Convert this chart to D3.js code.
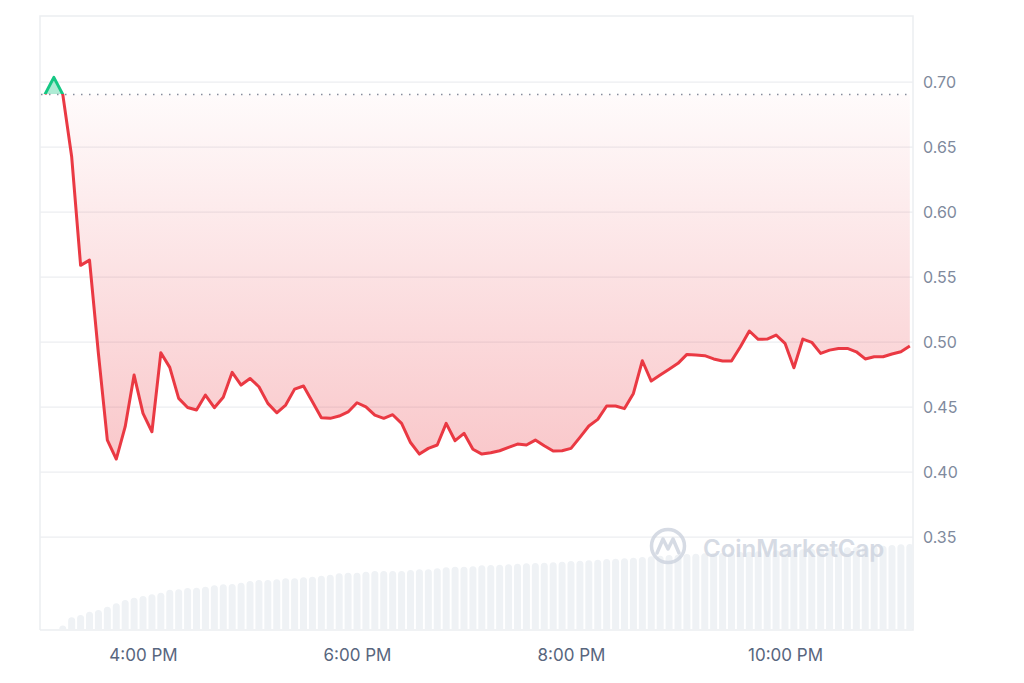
<!DOCTYPE html>
<html><head><meta charset="utf-8">
<script src="https://cdn.jsdelivr.net/npm/d3@7"></script>
<style>
html,body{margin:0;padding:0;background:#fff;}
svg{display:block;font-family:Inter, "Noto Sans", sans-serif;}
</style></head>
<body><svg id="c" width="1024" height="683"></svg>
<script>
const times = ["15:05","15:10","15:15","15:20","15:25","15:30","15:35","15:40","15:45","15:50","15:55",
"16:00","16:05","16:10","16:15","16:20","16:25","16:30","16:35","16:40","16:45","16:50","16:55",
"17:00","17:05","17:10","17:15","17:20","17:25","17:30","17:35","17:40","17:45","17:50","17:55",
"18:00","18:05","18:10","18:15","18:20","18:25","18:30","18:35","18:40","18:45","18:50","18:55",
"19:00","19:05","19:10","19:15","19:20","19:25","19:30","19:35","19:40","19:45","19:50","19:55",
"20:00","20:05","20:10","20:15","20:20","20:25","20:30","20:35","20:40","20:45","20:50","20:55",
"21:00","21:05","21:10","21:15","21:20","21:25","21:30","21:35","21:40","21:45","21:50","21:55",
"22:00","22:05","22:10","22:15","22:20","22:25","22:30","22:35","22:40","22:45","22:50","22:55",
"23:00","23:05","23:10"];
const prices = [0.6905,0.7036,0.6905,0.6425,0.559,0.563,0.491,0.4246,0.410,0.4349,0.4746,
0.4451,0.431,0.4918,0.4805,0.4567,0.4497,0.4477,0.4592,0.4495,0.4575,0.4767,0.4669,
0.472,0.4656,0.4528,0.4456,0.4515,0.4638,0.4662,0.4541,0.4418,0.4413,0.4431,0.4462,
0.4533,0.4502,0.4438,0.4413,0.4441,0.4375,0.4227,0.4138,0.4182,0.4208,0.4374,0.4241,
0.4298,0.4175,0.4138,0.4148,0.4164,0.419,0.4215,0.4208,0.4246,0.4202,0.4162,0.4164,
0.4182,0.4267,0.4354,0.4405,0.4508,0.4508,0.4488,0.4605,0.4856,0.47,0.4746,0.479,
0.4836,0.4905,0.49,0.4895,0.487,0.4854,0.4854,0.4964,0.5085,0.5021,0.5023,0.5054,
0.499,0.4802,0.5023,0.4998,0.4913,0.4938,0.4951,0.4951,0.4925,0.487,0.4887,0.4887,
0.4908,0.4925,0.4969];
const volumes = [0,0,2.3,11.7,14,17.3,19,22.3,25.7,29,31.3,
33,34.7,36.3,39.3,39.7,41,41.3,42.3,43.7,44.7,45,46.3,
48,49,49,49.7,50.7,50.7,51.7,52.3,53.3,54.3,55.7,56.3,
56.3,57.3,58,58,58,58,59,59.7,59.7,60.7,61.7,62.3,
62.3,62.7,63.7,64,64.3,64.7,65.3,65.7,66,66.3,66.7,67.3,
68,68.3,68.7,69.3,70,70.3,70.7,71.3,72,72.7,73.3,74,
74.3,75,75.3,75.7,76,76.3,76.7,77,77.3,77.7,78,78.7,
79,79.3,79.7,80,80.7,81,81.3,81.7,82,82.3,82.7,83.3,
84,84.7,85];
const openPrice = 0.6905;
const yTicks = [0.35,0.40,0.45,0.50,0.55,0.60,0.65,0.70];
const xTickTimes = ["16:00","18:00","20:00","22:00"];

const parse = s => { const [h,m] = s.split(":").map(Number); return new Date(2024,0,1,h,m); };
const data = times.map((t,i)=>({t:parse(t), p:prices[i], v:volumes[i]}));

const L=40, R=913, T=16, B=630;
const svg = d3.select("#c");
const x = d3.scaleTime().domain([new Date(2024,0,1,15,2,14), new Date(2024,0,1,23,11,47)]).range([L,R]);
const y = d3.scaleLinear().domain([0.2785,0.7508]).range([B,T]);
const yv = d3.scaleLinear().domain([0,100]).range([629,529]);
const yOpen = y(openPrice);
const yCut = Math.floor(yOpen);

// grid
svg.append("g").selectAll("line").data(yTicks).join("line")
  .attr("x1",L).attr("x2",R).attr("y1",d=>y(d)).attr("y2",d=>y(d))
  .attr("stroke","#eceef1").attr("stroke-width",1.2);
// frame
svg.append("path").attr("d",`M${L},${B}V${T}H${R}V${B}H${L}`).attr("fill","none").attr("stroke","#eceef1").attr("stroke-width",1.5);

// volume bars
const bw=7, r=3.5;
svg.append("g").selectAll("path").data(data.filter(d=>d.v>0)).join("path")
  .attr("d",d=>{const cx=x(d.t), x0=cx-bw/2, top=yv(d.v), bot=yv(0);
     const rr=Math.min(r,(bot-top));
     return `M${x0},${bot}V${top+rr}A${rr},${rr} 0 0 1 ${x0+bw},${top+rr}V${bot}Z`;})
  .attr("fill","#eff2f5");

// watermark
const wm = svg.append("g").attr("opacity",0.85);
wm.append("circle").attr("cx",668).attr("cy",546).attr("r",16.5).attr("fill","none").attr("stroke","#cfd5e0").attr("stroke-width",3.5);
wm.append("path").attr("d","M657,553 L663,539 L668,549 L673,539 L679,553").attr("fill","none").attr("stroke","#cfd5e0").attr("stroke-width",3.5).attr("stroke-linejoin","round").attr("stroke-linecap","round");
wm.append("text").attr("x",703).attr("y",557).attr("font-size",24).attr("font-weight",600).attr("fill","#cfd5e0").text("CoinMarketCap");

// defs
const defs = svg.append("defs");
const gR = defs.append("linearGradient").attr("id","gR").attr("gradientUnits","userSpaceOnUse")
  .attr("x1",0).attr("x2",0).attr("y1",yOpen).attr("y2",y(d3.min(prices)));
gR.append("stop").attr("offset",0).attr("stop-color","#ea3943").attr("stop-opacity",0.02);
gR.append("stop").attr("offset",1).attr("stop-color","#ea3943").attr("stop-opacity",0.28);
defs.append("clipPath").attr("id","above").append("rect").attr("x",L).attr("y",T-20).attr("width",R-L).attr("height",yCut-T+20);
defs.append("clipPath").attr("id","below").append("rect").attr("x",L).attr("y",yCut).attr("width",R-L).attr("height",B-yCut);

const area = d3.area().x(d=>x(d.t)).y0(yOpen).y1(d=>y(d.p));
const line = d3.line().x(d=>x(d.t)).y(d=>y(d.p));

svg.append("path").datum(data).attr("d",area).attr("fill","url(#gR)").attr("clip-path","url(#below)");
svg.append("path").datum(data).attr("d",area).attr("fill","#16c784").attr("fill-opacity",0.35).attr("clip-path","url(#above)");

// baseline dotted
svg.append("line").attr("x1",L+1).attr("x2",R).attr("y1",yOpen).attr("y2",yOpen)
  .attr("stroke","#858c9c").attr("stroke-width",1.5).attr("stroke-dasharray","1.5,6.5");

svg.append("path").datum(data).attr("d",line).attr("fill","none").attr("stroke","#ea3943").attr("stroke-width",3).attr("stroke-linejoin","round").attr("clip-path","url(#below)");
svg.append("path").datum(data).attr("d",line).attr("fill","none").attr("stroke","#16c784").attr("stroke-width",3).attr("stroke-linejoin","round").attr("clip-path","url(#above)");

// y axis (right)
const ya = svg.append("g").attr("transform",`translate(${R},0)`)
  .call(d3.axisRight(y).tickValues(yTicks).tickFormat(d3.format(".2f")).tickSize(0).tickPadding(10));
ya.select(".domain").remove();
ya.selectAll("text").attr("font-size",16).attr("fill","#808a9d").attr("font-family","Inter, sans-serif");

// x axis
const xa = svg.append("g").attr("transform",`translate(0,${B})`)
  .call(d3.axisBottom(x).tickValues(xTickTimes.map(parse)).tickFormat(d3.timeFormat("%-I:%M %p")).tickSize(0).tickPadding(19));
xa.select(".domain").remove();
xa.selectAll("text").attr("font-size",17).attr("fill","#58667e").attr("font-family","Inter, sans-serif");
</script></body></html>
